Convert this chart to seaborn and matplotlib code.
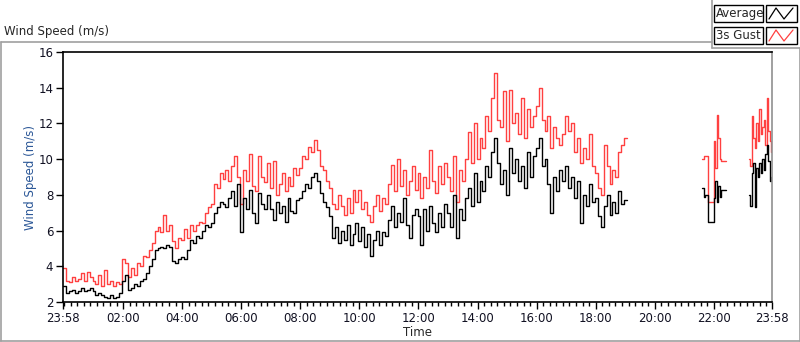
import numpy as np
import pandas as pd
import matplotlib
matplotlib.use("Agg")
import matplotlib.pyplot as plt
import seaborn as sns
from matplotlib.lines import Line2D
from matplotlib.patches import Rectangle
from matplotlib.ticker import FixedLocator

sns.set_style("white")
plt.rcParams["font.family"] = ["DejaVu Sans"]

# ---- data (minutes after 23:58, step 6 min for the main block) ----
avg_main = [
    2.9, 2.5, 2.6, 2.7, 2.5, 2.6, 2.8, 2.6, 2.7, 2.8,
    2.6, 2.4, 2.5, 2.4, 2.3, 2.2, 2.4, 2.2, 2.3, 2.5,
    3.2, 3.5, 2.7, 2.8, 3.0, 2.9, 3.2, 3.3, 3.6, 4.0,
    4.4, 4.9, 5.0, 5.1, 5.0, 5.2, 5.1, 4.3, 4.2, 4.4,
    4.5, 4.4, 4.9, 5.5, 5.3, 5.7, 5.6, 6.0, 6.3, 6.2,
    6.4, 7.0, 7.3, 7.6, 7.5, 7.3, 7.8, 8.2, 7.4, 8.6,
    5.9, 7.8, 7.2, 8.3, 7.0, 6.4, 8.1, 7.5, 7.2, 8.0,
    7.2, 6.6, 7.6, 7.0, 7.4, 6.5, 7.8, 7.1, 7.0, 7.7,
    7.8, 8.2, 8.6, 8.4, 9.0, 9.2, 8.8, 8.1, 7.6, 7.3,
    6.8, 5.6, 6.2, 5.3, 6.0, 5.5, 6.3, 5.2, 5.8, 6.4,
    5.4, 6.2, 5.1, 5.8, 4.6, 5.5, 6.0, 5.2, 5.9, 5.7,
    6.6, 7.4, 6.2, 7.0, 6.5, 7.8, 6.3, 5.6, 6.9, 7.2,
    6.8, 5.2, 7.2, 6.0, 7.4, 6.4, 5.9, 7.0, 6.2, 7.5,
    7.0, 6.2, 8.0, 5.6, 7.2, 6.6, 7.8, 8.4, 7.4, 9.2,
    7.6, 8.8, 8.2, 9.6, 9.0, 10.4, 11.2, 9.8, 8.6, 9.4,
    8.0, 10.6, 9.2, 10.0, 8.8, 9.6, 8.4, 10.4, 9.0, 10.2,
    10.6, 11.2, 9.6, 10.0, 8.6, 7.0, 9.0, 8.2, 9.4, 8.8,
    9.6, 8.4, 9.0, 7.8, 8.8, 6.4, 8.0, 7.4, 8.6, 7.6,
    7.8, 6.8, 6.2, 7.4, 8.0, 6.9, 7.6, 7.0, 8.2, 7.5,
    7.7, 7.7,
]
gust_main = [
    3.9, 3.2, 3.1, 3.4, 3.2, 3.3, 3.6, 3.2, 3.7, 3.4,
    3.2, 3.0, 3.5, 2.9, 3.8, 3.0, 3.2, 2.9, 3.1, 3.0,
    4.4, 4.2, 3.4, 3.9, 3.5, 4.2, 4.0, 4.6, 4.5, 4.9,
    5.3, 6.0, 6.2, 5.9, 6.9, 6.0, 6.3, 5.4, 5.0, 5.6,
    5.5, 6.1, 5.6, 6.3, 6.0, 6.3, 6.5, 6.4, 7.0, 7.3,
    7.5, 8.6, 8.4, 9.2, 8.9, 9.4, 8.8, 9.6, 10.2, 9.0,
    7.5, 9.4, 8.8, 10.3, 8.5, 8.2, 10.2, 9.0, 8.7, 9.8,
    8.4, 9.9, 8.0, 8.6, 9.2, 8.2, 9.0, 8.5, 9.5, 9.1,
    9.5, 10.2, 10.0, 10.7, 10.4, 11.1, 10.5, 9.6, 9.4, 8.8,
    8.4, 7.5, 7.2, 8.0, 7.4, 6.9, 7.8, 7.0, 8.3, 7.6,
    8.3, 7.2, 7.6, 6.9, 6.5, 7.4, 8.0, 7.1, 7.8, 7.5,
    8.6, 9.7, 8.2, 10.0, 8.5, 9.4, 8.0, 8.8, 9.6, 8.3,
    9.2, 7.8, 9.0, 8.4, 10.5, 8.8, 8.1, 9.6, 8.6, 9.8,
    9.0, 8.2, 10.2, 7.6, 9.4, 8.8, 10.0, 11.5, 9.8, 12.0,
    10.0, 11.2, 10.6, 12.4, 11.6, 13.4, 14.8, 12.2, 11.8, 13.8,
    11.0, 13.9, 12.0, 12.6, 11.4, 13.4, 11.2, 12.8, 11.8, 12.4,
    13.0, 14.0, 12.2, 11.6, 12.4, 10.6, 11.8, 11.2, 10.8, 11.4,
    12.4, 11.6, 12.0, 10.4, 11.2, 9.8, 10.6, 10.0, 11.4, 9.6,
    9.2, 8.4, 8.0, 10.8, 9.6, 8.6, 9.4, 9.0, 10.4, 10.8,
    11.2, 11.2,
]
# block around 22:00 (start 1298 min, step 3 min)
avg_b2 = [8.4, 7.9, 8.0, 8.0, 6.5, 6.5, 6.5, 6.5, 7.8, 8.8, 7.6, 8.5, 7.9, 8.3, 8.3, 8.3, 8.3]
gust_b2 = [10.0, 10.2, 10.2, 10.2, 7.6, 7.6, 7.6, 7.6, 11.0, 9.5, 12.5, 11.2, 10.0, 9.9, 9.9, 9.9, 9.9]
# block before midnight (start 1393 min, step 3 min)
avg_b3 = [8.0, 7.4, 9.2, 9.8, 7.3, 9.5, 9.0, 9.8, 9.2, 10.0, 9.4, 10.3, 10.8, 9.9, 8.8, 9.0]
gust_b3 = [10.0, 9.6, 12.4, 11.2, 10.6, 12.0, 11.0, 12.8, 11.4, 11.8, 12.2, 10.8, 13.4, 11.6, 11.0, 10.4]

tick_pos = [0, 122, 242, 362, 482, 602, 722, 842, 962, 1082, 1202, 1322, 1440]
tick_lab = ["23:58", "02:00", "04:00", "06:00", "08:00", "10:00", "12:00",
            "14:00", "16:00", "18:00", "20:00", "22:00", "23:58"]
y_ticks = [2, 4, 6, 8, 10, 12, 14, 16]

# ---- frame ----
frames = []
for seg, (start, step, a, g) in enumerate([(0, 6, avg_main, gust_main),
                                             (1298, 3, avg_b2, gust_b2),
                                             (1393, 3, avg_b3, gust_b3)]):
    t = start + step * np.arange(len(a))
    frames.append(pd.DataFrame({"t": t, "avg": a, "gust": g, "seg": seg}))
df = pd.concat(frames, ignore_index=True)

W, H = 800, 342
fig = plt.figure(figsize=(W / 100, H / 100), dpi=100)
fx = lambda x: x / W
fy = lambda y: 1 - y / H

ax = fig.add_axes([fx(63), fy(302), 709 / W, 250 / H])
sns.lineplot(data=df, x="t", y="gust", units="seg", estimator=None, color="#ff4040",
             lw=1.0, drawstyle="steps-post", ax=ax, sort=False)
sns.lineplot(data=df, x="t", y="avg", units="seg", estimator=None, color="black",
             lw=1.0, drawstyle="steps-post", ax=ax, sort=False)

ax.set_xlim(0, 1440)
ax.set_ylim(2, 16)
ax.set_xticks(tick_pos)
ax.set_xticklabels(tick_lab)
minor = [2 + k * 120 / 9 for k in range(0, 200) if 2 + k * 120 / 9 <= 1440]
ax.xaxis.set_minor_locator(FixedLocator(minor))
ax.set_yticks(y_ticks)
ax.set_yticklabels([str(v) for v in y_ticks])
ax.tick_params(axis="both", which="major", direction="out", length=5, width=1,
               color="black", labelsize=8.5, pad=2, labelcolor="#111122")
ax.tick_params(axis="x", which="minor", direction="out", length=3, width=1, color="black")
ax.tick_params(axis="x", bottom=True, which="both")
ax.tick_params(axis="y", left=True)
for s in ["left", "top", "bottom"]:
    ax.spines[s].set_color("black")
    ax.spines[s].set_linewidth(1.2)
ax.spines["right"].set_color("#909090")
ax.spines["right"].set_linewidth(1.2)
ax.set_xlabel("Time", fontsize=8.5, labelpad=1)
ax.set_ylabel("Wind Speed (m/s)", fontsize=8.5, color="#2b5797", labelpad=1)

# outer panel
gray = "#a0a0a0"
for xs, ys in [([0.5, 712], [42, 42]), ([0.5, 0.5], [42, 341]), ([0, 800], [341, 341]),
               ([799.5, 799.5], [48, 341]), ([712, 712], [0, 48]), ([712, 800], [48, 48])]:
    fig.add_artist(Line2D([fx(v) for v in xs], [fy(v) for v in ys], color=gray, lw=1.2))
fig.text(fx(4), fy(31), "Wind Speed (m/s)", fontsize=8.5, va="center", ha="left")

# legend boxes
for (top, bot, label, col) in [(5, 22, "Average", "black"), (27, 44, "3s Gust", "#ff4040")]:
    fig.add_artist(Rectangle((fx(714), fy(bot)), (763 - 714) / W, (bot - top) / H,
                             transform=fig.transFigure, facecolor="white", edgecolor="black", lw=1))
    fig.add_artist(Rectangle((fx(766), fy(bot)), (797 - 766) / W, (bot - top) / H,
                             transform=fig.transFigure, facecolor="white", edgecolor="black", lw=1))
    fig.text(fx(716), fy((top + bot) / 2), label, fontsize=8.5, va="center", ha="left")
    zx = [769, 776, 784, 793]
    zy = [bot - 3, top + 3, bot - 3, top + 3]
    fig.add_artist(Line2D([fx(v) for v in zx], [fy(v) for v in zy], color=col, lw=0.9))

fig.savefig("out.png", dpi=100)
